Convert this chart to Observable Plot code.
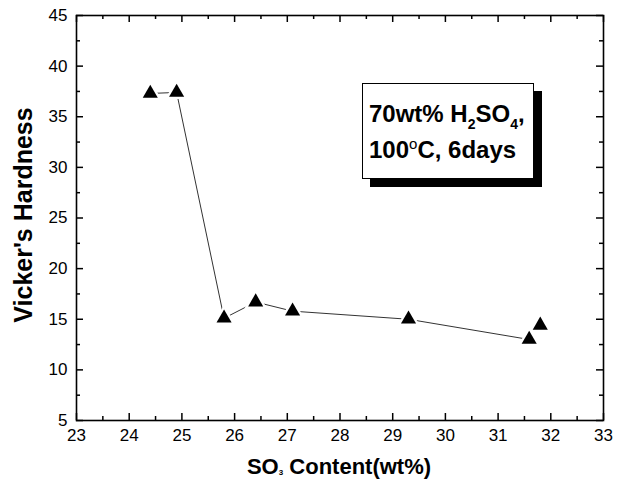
<!DOCTYPE html>
<html>
<head>
<meta charset="utf-8">
<script src="https://cdn.jsdelivr.net/npm/d3@7"></script>
<script src="https://cdn.jsdelivr.net/npm/@observablehq/plot@0.6"></script>
<style>
  html, body { margin: 0; padding: 0; background: #fff; }
  #wrap { position: relative; width: 622px; height: 485px; font-family: "Liberation Sans", Arial, sans-serif; color: #000; }
  #wrap svg { position: absolute; left: 0; top: 0; }
  .ytitle { position: absolute; left: 23px; top: 215px; transform: translate(-50%, -50%) rotate(-90deg); font-weight: bold; font-size: 25px; white-space: nowrap; }
  .xtitle { position: absolute; left: 339px; top: 456px; transform: translateX(-50%); font-weight: bold; font-size: 22px; white-space: nowrap; line-height: 1; }
  .xtitle sub { font-size: 8px; vertical-align: -1px; }
  .note { position: absolute; left: 362px; top: 83px; width: 170px; height: 94px; border: 1px solid #000; background: #fff; box-shadow: 8px 8px 0 #000; font-weight: bold; font-size: 24px; }
  .note div { position: absolute; left: 6px; white-space: nowrap; line-height: 1; }
  .note sub { font-size: 14px; vertical-align: -7px; line-height: 0; }
  .note sup { font-size: 15px; vertical-align: 9px; line-height: 0; font-weight: normal; }
</style>
</head>
<body>
<div id="wrap"></div>
<script>
// Data
const so3Content = [24.40, 24.90, 25.80, 26.40, 27.10, 29.30, 31.59, 31.80];
const hardness   = [37.3, 37.4, 15.1, 16.7, 15.8, 15.0, 13.0, 14.4];
const connected  = [true, true, true, true, true, true, true, false];

const xTicks = [23, 24, 25, 26, 27, 28, 29, 30, 31, 32, 33];
const xMinor = [23.5, 24.5, 25.5, 26.5, 27.5, 28.5, 29.5, 30.5, 31.5, 32.5];
const yTicks = [5, 10, 15, 20, 25, 30, 35, 40, 45];
const yMinor = [7.5, 12.5, 17.5, 22.5, 27.5, 32.5, 37.5, 42.5];

const xTitle = "SO<sub>3</sub> Content(wt%)";
const yTitle = "Vicker's Hardness";
const noteLine1 = "70wt% H<sub>2</sub>SO<sub>4</sub>,";
const noteLine2 = "100<sup>o</sup>C, 6days";

const points = so3Content.map((x, i) => ({x, y: hardness[i], c: connected[i]}));

const W = 622, H = 485, mL = 76, mR = 19, mT = 15, mB = 65;
const fw = W - mL - mR, fh = H - mT - mB;
const major = 7, minor = 4;

const chart = Plot.plot({
  width: W, height: H,
  marginLeft: mL, marginRight: mR, marginTop: mT, marginBottom: mB,
  x: {domain: [23, 33]},
  y: {domain: [5, 45]},
  style: {fontFamily: "'Liberation Sans', Arial, sans-serif", fontSize: "17px", color: "#000", background: "transparent"},
  marks: [
    Plot.line(points.filter(d => d.c), {x: "x", y: "y", stroke: "#333", strokeWidth: 1}),
    Plot.dot(points, {x: "x", y: "y", symbol: "triangle", r: 8.5, fill: "white", stroke: "none"}),
    Plot.dot(points, {x: "x", y: "y", symbol: "triangle", r: 5.6, fill: "black", stroke: "none"}),
    Plot.frame({stroke: "#000", strokeWidth: 1.6}),
    // inward ticks on all four sides
    Plot.tickX(xTicks, {x: d => d, insetTop: fh - major, strokeWidth: 1.5}),
    Plot.tickX(xMinor, {x: d => d, insetTop: fh - minor, strokeWidth: 1.5}),
    Plot.tickX(xTicks, {x: d => d, insetBottom: fh - major, strokeWidth: 1.5}),
    Plot.tickX(xMinor, {x: d => d, insetBottom: fh - minor, strokeWidth: 1.5}),
    Plot.tickY(yTicks, {y: d => d, insetRight: fw - major, strokeWidth: 1.5}),
    Plot.tickY(yMinor, {y: d => d, insetRight: fw - minor, strokeWidth: 1.5}),
    Plot.tickY(yTicks, {y: d => d, insetLeft: fw - major, strokeWidth: 1.5}),
    Plot.tickY(yMinor, {y: d => d, insetLeft: fw - minor, strokeWidth: 1.5}),
    Plot.axisX({ticks: xTicks, tickSize: 0, tickPadding: 8, label: null, fontSize: 17}),
    Plot.axisY({ticks: yTicks, tickSize: 0, tickPadding: 9, label: null, fontSize: 17})
  ]
});

const wrap = document.getElementById("wrap");
wrap.appendChild(chart);

const yt = document.createElement("div");
yt.className = "ytitle"; yt.textContent = yTitle; wrap.appendChild(yt);

const xt = document.createElement("div");
xt.className = "xtitle"; xt.innerHTML = xTitle; wrap.appendChild(xt);

const note = document.createElement("div");
note.className = "note";
const l1 = document.createElement("div"); l1.style.top = "18px"; l1.innerHTML = noteLine1;
const l2 = document.createElement("div"); l2.style.top = "54px"; l2.innerHTML = noteLine2;
note.appendChild(l1); note.appendChild(l2);
wrap.appendChild(note);
</script>
</body>
</html>
